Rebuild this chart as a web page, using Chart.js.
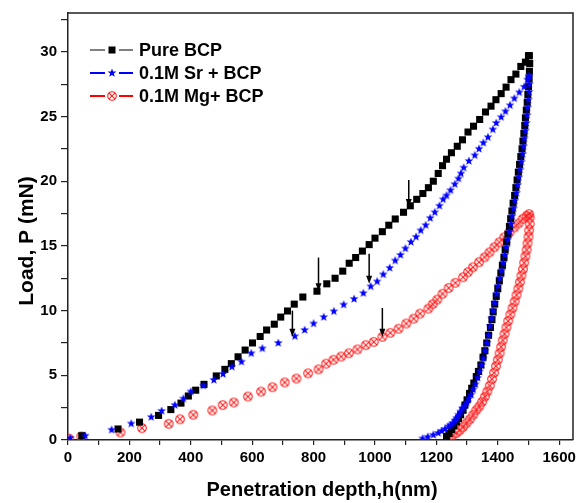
<!DOCTYPE html>
<html>
<head>
<meta charset="utf-8">
<script src="https://cdn.jsdelivr.net/npm/chart.js@4.4.0/dist/chart.umd.min.js"></script>
<style>
  body { margin: 0; background: #fff; }
  #wrap { width: 580px; height: 503px; }
</style>
</head>
<body>
<div id="wrap"><canvas id="lpChart" width="580" height="503"></canvas></div>
<script>
// Pure BCP (black squares), loading then unloading, depth in nm / load in mN
const pureLoadDepth = [45,163,233,295,335,368,392,416,443,483,511,532,554,577,601,626,647,672,693,715,737,765,811,843,870,895,916,937,959,981,1000,1024,1045,1066,1093,1115,1136,1156,1174,1190,1206,1220,1233,1249,1268,1285,1303,1321,1341,1360,1378,1394,1411,1427,1443,1459,1475,1490,1500];
const pureLoadForce = [0.33,0.85,1.38,1.9,2.35,2.85,3.4,3.85,4.3,4.95,5.46,5.9,6.43,6.95,7.5,8.0,8.5,8.95,9.5,9.97,10.5,11.05,11.5,12.07,12.5,13.05,13.66,14.1,14.6,15.1,15.6,16.1,16.6,17.08,17.6,18.1,18.6,19.05,19.5,20.0,20.6,21.2,21.7,22.2,22.7,23.2,23.8,24.25,24.77,25.35,25.8,26.3,26.77,27.27,27.85,28.28,28.87,29.2,29.7];
const pureUnloadDepth = [1503,1504,1503,1502,1500,1498,1496,1493,1490,1488,1485,1482,1479,1475,1471,1467,1463,1459,1455,1450,1446,1442,1438,1433,1429,1424,1420,1415,1410,1405,1400,1395,1390,1385,1381,1376,1370,1364,1358,1352,1345,1337,1330,1322,1315,1308,1300,1293,1287,1279,1272,1265,1257,1249,1241,1233];
const pureUnloadForce = [29.7,29.1,28.5,27.9,27.3,26.7,26.1,25.5,24.9,24.3,23.7,23.1,22.5,21.9,21.3,20.7,20.1,19.5,18.9,18.3,17.7,17.1,16.5,15.9,15.3,14.7,14.1,13.5,12.9,12.3,11.7,11.1,10.5,9.9,9.3,8.7,8.1,7.5,6.9,6.4,5.8,5.3,4.9,4.4,4.0,3.6,3.1,2.7,2.3,1.95,1.65,1.4,1.1,0.8,0.5,0.28];

// 0.1M Sr + BCP (blue stars)
const srLoadDepth = [7,56,142,206,271,305,348,376,400,441,475,505,534,565,597,633,685,739,771,800,833,866,898,932,962,986,1007,1027,1048,1066,1083,1099,1117,1134,1149,1165,1180,1195,1210,1222,1233,1246,1260,1272,1280,1289,1306,1325,1339,1353,1368,1384,1395,1411,1425,1440,1454,1470,1486,1497,1502];
const srLoadForce = [0.15,0.33,0.79,1.27,1.77,2.25,2.7,3.2,3.74,4.2,4.64,5.1,5.66,6.05,6.7,7.08,7.5,8.02,8.5,9.0,9.5,9.95,10.46,10.9,11.35,11.87,12.25,12.8,13.3,13.87,14.3,14.8,15.3,15.7,16.2,16.6,17.15,17.6,18.1,18.6,18.9,19.3,19.77,20.2,20.6,21.05,21.56,22.0,22.5,22.97,23.4,24.0,24.5,24.95,25.4,25.87,26.4,26.87,27.3,27.85,28.1];
const srUnloadDepth = [1502,1503,1502,1500,1498,1496,1493,1490,1487,1484,1481,1477,1473,1469,1465,1461,1456,1452,1447,1443,1438,1433,1428,1423,1418,1413,1407,1401,1396,1390,1385,1380,1375,1370,1365,1359,1353,1347,1341,1334,1327,1320,1313,1306,1299,1292,1285,1279,1272,1266,1260,1253,1246,1239,1228,1217,1206,1190,1172,1155];
const srUnloadForce = [28.1,27.5,26.9,26.3,25.7,25.1,24.5,23.9,23.3,22.7,22.1,21.5,20.9,20.3,19.7,19.1,18.5,17.9,17.3,16.7,16.1,15.5,14.9,14.3,13.7,13.1,12.5,11.9,11.3,10.6,10.0,9.4,8.8,8.1,7.5,6.9,6.3,5.8,5.3,4.8,4.3,3.9,3.5,3.2,2.9,2.65,2.45,2.2,1.95,1.7,1.5,1.3,1.15,1.05,0.85,0.7,0.55,0.4,0.25,0.12];

// 0.1M Mg+ BCP (red circled crosses)
const mgLoadDepth = [4,43,171,241,328,365,408,470,504,540,586,629,666,706,744,782,816,841,865,890,915,943,970,996,1024,1050,1077,1102,1126,1147,1174,1188,1203,1220,1240,1262,1287,1303,1319,1339,1357,1373,1389,1405,1421,1438,1454,1468,1481,1494,1502];
const mgLoadForce = [0.1,0.28,0.58,0.92,1.25,1.6,1.95,2.28,2.7,2.9,3.36,3.74,4.08,4.45,4.75,5.15,5.46,5.9,6.2,6.45,6.7,7.0,7.33,7.58,7.97,8.28,8.6,9.0,9.38,9.77,10.15,10.5,10.85,11.3,11.75,12.15,12.58,12.97,13.35,13.74,14.12,14.5,14.9,15.28,15.66,16.05,16.43,16.74,17.08,17.33,17.46];
const mgUnloadDepth = [1504,1504,1502,1500,1497,1494,1490,1486,1482,1477,1472,1467,1461,1455,1448,1441,1434,1428,1422,1416,1411,1406,1400,1394,1388,1381,1374,1366,1358,1349,1340,1330,1320,1309,1298,1287,1276,1265,1252,1239];
const mgUnloadForce = [17.2,16.7,16.2,15.7,15.2,14.7,14.2,13.7,13.2,12.7,12.2,11.7,11.2,10.7,10.2,9.7,9.2,8.7,8.2,7.7,7.2,6.7,6.2,5.7,5.2,4.7,4.2,3.75,3.35,2.95,2.6,2.3,1.95,1.6,1.3,1.0,0.75,0.54,0.35,0.18];

// arrows marking pop-in events
const arrowDepth = [731, 816, 981, 1024, 1110];
const arrowFrom  = [10.0, 14.1, 14.4, 10.2, 20.1];
const arrowTo    = [7.97, 11.5, 12.07, 7.97, 18.0];

const seriesLabels = ['Pure BCP', '0.1M Sr + BCP', '0.1M Mg+ BCP'];

function toPoints(xs, ys) {
    return xs.map((x, i) => ({ x: x, y: ys[i] }));
}

// filled five point star
function makeStar(color, r) {
    const c = document.createElement('canvas');
    const s = Math.ceil(r * 2 + 2);
    c.width = s; c.height = s;
    const g = c.getContext('2d');
    g.translate(s / 2, s / 2);
    g.beginPath();
    for (let i = 0; i < 10; i++) {
        const rad = i % 2 === 0 ? r : r * 0.42;
        const a = -Math.PI / 2 + i * Math.PI / 5;
        g.lineTo(rad * Math.cos(a), rad * Math.sin(a));
    }
    g.closePath();
    g.fillStyle = color;
    g.fill();
    return c;
}

// open circle with an x inside
function makeCircleX(color, r) {
    const c = document.createElement('canvas');
    const s = Math.ceil(r * 2 + 3);
    c.width = s; c.height = s;
    const g = c.getContext('2d');
    g.translate(s / 2, s / 2);
    g.strokeStyle = color;
    g.lineWidth = 1.1;
    g.beginPath();
    g.arc(0, 0, r, 0, Math.PI * 2);
    g.stroke();
    const d = r * 0.68;
    g.beginPath();
    g.moveTo(-d, -d); g.lineTo(d, d);
    g.moveTo(d, -d); g.lineTo(-d, d);
    g.stroke();
    return c;
}

const starImg = makeStar('#0000ff', 4.6);
const circleXImg = makeCircleX('#ff2020', 4.3);

const boldFont = '"Liberation Sans", Arial, sans-serif';

const framePlugin = {
    id: 'frame',
    afterDatasetsDraw(chart) {
        const { ctx, chartArea: a, scales } = chart;
        ctx.save();
        // arrows
        ctx.strokeStyle = '#000';
        ctx.fillStyle = '#000';
        ctx.lineWidth = 1.5;
        arrowDepth.forEach((d, i) => {
            const x = scales.x.getPixelForValue(d);
            const y0 = scales.y.getPixelForValue(arrowFrom[i]);
            const y1 = scales.y.getPixelForValue(arrowTo[i]);
            ctx.beginPath();
            ctx.moveTo(x, y0);
            ctx.lineTo(x, y1 - 6);
            ctx.stroke();
            ctx.beginPath();
            ctx.moveTo(x - 3, y1 - 8);
            ctx.lineTo(x + 3, y1 - 8);
            ctx.lineTo(x, y1);
            ctx.closePath();
            ctx.fill();
        });
        // top and right frame
        ctx.strokeStyle = '#222';
        ctx.lineWidth = 1.5;
        ctx.beginPath();
        ctx.moveTo(a.left, a.top);
        ctx.lineTo(a.right, a.top);
        ctx.lineTo(a.right, a.bottom);
        ctx.stroke();
        ctx.restore();
    },
    afterDraw(chart) {
        const { ctx } = chart;
        ctx.save();
        // legend
        const rows = [50, 73, 96];
        chart.data.datasets.forEach((ds, i) => {
            const y = rows[i];
            ctx.strokeStyle = ds.legendColor;
            ctx.lineWidth = ds.legendLine;
            ctx.beginPath();
            ctx.moveTo(90, y); ctx.lineTo(105, y);
            ctx.moveTo(119, y); ctx.lineTo(133, y);
            ctx.stroke();
            if (ds.pointStyle === 'rect') {
                ctx.fillStyle = '#000';
                ctx.fillRect(108.5, y - 3.5, 7, 7);
            } else {
                const img = ds.pointStyle;
                ctx.drawImage(img, 112 - img.width / 2, y - img.height / 2);
            }
            ctx.fillStyle = '#000';
            ctx.font = 'bold 18px ' + boldFont;
            ctx.textBaseline = 'middle';
            ctx.textAlign = 'left';
            ctx.fillText(ds.label, 139, y + 1);
        });
        // axis titles
        ctx.font = 'bold 20px ' + boldFont;
        ctx.textAlign = 'center';
        ctx.textBaseline = 'middle';
        ctx.fillText('Penetration depth,h(nm)', 322, 490);
        ctx.font = 'bold 21px ' + boldFont;
        ctx.translate(27, 241);
        ctx.rotate(-Math.PI / 2);
        ctx.fillText('Load, P (mN)', 0, 0);
        ctx.restore();
    }
};

const ctx = document.getElementById('lpChart').getContext('2d');
new Chart(ctx, {
    type: 'scatter',
    data: {
        datasets: [
            {
                label: seriesLabels[0],
                data: toPoints(pureLoadDepth, pureLoadForce).concat(toPoints(pureUnloadDepth, pureUnloadForce)),
                pointStyle: 'rect',
                pointRadius: 5,
                backgroundColor: '#000',
                borderColor: '#000',
                borderWidth: 0,
                legendColor: '#000',
                legendLine: 1,
                order: 1
            },
            {
                label: seriesLabels[1],
                data: toPoints(srLoadDepth, srLoadForce).concat(toPoints(srUnloadDepth, srUnloadForce)),
                pointStyle: starImg,
                legendColor: '#0000ff',
                legendLine: 2,
                order: 0
            },
            {
                label: seriesLabels[2],
                data: toPoints(mgLoadDepth, mgLoadForce).concat(toPoints(mgUnloadDepth, mgUnloadForce)),
                pointStyle: circleXImg,
                legendColor: '#ff0000',
                legendLine: 2,
                order: 2
            }
        ]
    },
    options: {
        responsive: false,
        animation: false,
        events: [],
        layout: { padding: { top: 12, right: 2, left: 0, bottom: 0 } },
        plugins: {
            legend: { display: false },
            tooltip: { enabled: false }
        },
        scales: {
            x: {
                type: 'linear',
                min: 0,
                max: 1645,
                afterFit: function (scale) { scale.height = 63; },
                border: { display: true, color: '#222', width: 1.5 },
                grid: { drawOnChartArea: false, tickLength: 5, color: '#222', lineWidth: 1.2 },
                ticks: {
                    stepSize: 100,
                    includeBounds: false,
                    autoSkip: false,
                    maxRotation: 0,
                    padding: 4,
                    color: '#000',
                    font: { family: boldFont, size: 15, weight: 'bold' },
                    callback: function (v) { return v % 200 === 0 ? v : ''; }
                }
            },
            y: {
                type: 'linear',
                min: 0,
                max: 33,
                afterFit: function (scale) { scale.width = 68; },
                border: { display: true, color: '#222', width: 1.5 },
                grid: { drawOnChartArea: false, tickLength: 7, color: '#222', lineWidth: 1.2 },
                ticks: {
                    stepSize: 2.5,
                    includeBounds: false,
                    autoSkip: false,
                    padding: 4,
                    color: '#000',
                    font: { family: boldFont, size: 15, weight: 'bold' },
                    callback: function (v) { return v % 5 === 0 ? v : ''; }
                }
            }
        }
    },
    plugins: [framePlugin]
});
</script>
</body>
</html>
